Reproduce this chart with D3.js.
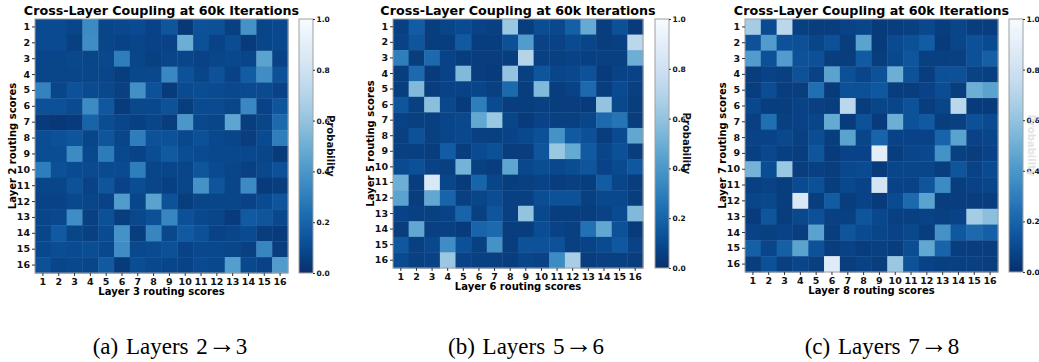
<!DOCTYPE html>
<html lang="en">
<head>
  <meta charset="UTF-8">
  <title>Cross-Layer Coupling heatmaps</title>
  <style>
    body { margin: 0; overflow: hidden; background: #fff; }
    svg { display: block; }
    .tick text { font-family: "DejaVu Sans", sans-serif; font-weight: bold; }
    .title { font-family: "DejaVu Sans", sans-serif; font-weight: bold; font-size: 12.7px; }
    .axlabel { font-family: "DejaVu Sans", sans-serif; font-weight: bold; font-size: 10px; }
    .caption { font-family: "Liberation Serif", "Times New Roman", serif; font-size: 23px; word-spacing: 2px; }
    .arrow { font-family: "Liberation Serif", serif; font-size: 28px; }
  </style>
  <script src="https://d3js.org/d3.v7.min.js"></script>
</head>
<body>
  <svg width="1039" height="362"></svg>
  <script>
    const experts = d3.range(1, 17);
    const cbTicks = [0, 0.2, 0.4, 0.6, 0.8, 1.0];

    // rows = source layer expert, columns = next layer expert
    const layers2to3 = [
      [0.10,0.10,0.08,0.35,0.08,0.09,0.10,0.07,0.14,0.03,0.13,0.12,0.06,0.38,0.08,0.09],
      [0.10,0.10,0.06,0.36,0.08,0.07,0.08,0.07,0.07,0.50,0.12,0.07,0.11,0.04,0.08,0.09],
      [0.08,0.08,0.09,0.08,0.09,0.30,0.08,0.06,0.08,0.08,0.07,0.08,0.09,0.08,0.45,0.07],
      [0.08,0.08,0.08,0.08,0.08,0.05,0.09,0.09,0.34,0.13,0.08,0.13,0.07,0.17,0.36,0.13],
      [0.32,0.08,0.13,0.10,0.09,0.06,0.37,0.13,0.04,0.10,0.11,0.10,0.09,0.10,0.10,0.07],
      [0.12,0.12,0.10,0.35,0.15,0.04,0.09,0.09,0.13,0.05,0.10,0.10,0.08,0.34,0.07,0.14],
      [0.04,0.03,0.04,0.20,0.11,0.08,0.06,0.08,0.05,0.40,0.09,0.08,0.46,0.05,0.08,0.22],
      [0.11,0.12,0.14,0.08,0.14,0.08,0.30,0.13,0.13,0.09,0.12,0.09,0.08,0.05,0.10,0.30],
      [0.11,0.11,0.35,0.09,0.29,0.09,0.07,0.11,0.16,0.11,0.10,0.09,0.09,0.09,0.08,0.04],
      [0.30,0.12,0.10,0.10,0.10,0.10,0.30,0.08,0.08,0.08,0.14,0.10,0.08,0.06,0.09,0.12],
      [0.08,0.08,0.13,0.07,0.14,0.07,0.11,0.08,0.06,0.08,0.38,0.14,0.08,0.35,0.04,0.05],
      [0.07,0.07,0.09,0.08,0.07,0.42,0.08,0.45,0.13,0.05,0.08,0.08,0.08,0.07,0.10,0.14],
      [0.08,0.09,0.36,0.06,0.12,0.05,0.09,0.12,0.33,0.12,0.09,0.08,0.04,0.16,0.14,0.09],
      [0.08,0.16,0.08,0.06,0.10,0.38,0.05,0.33,0.09,0.16,0.12,0.07,0.08,0.10,0.05,0.04],
      [0.09,0.11,0.10,0.11,0.09,0.36,0.09,0.10,0.12,0.07,0.09,0.09,0.08,0.06,0.33,0.05],
      [0.12,0.08,0.09,0.08,0.16,0.04,0.11,0.09,0.08,0.07,0.10,0.09,0.43,0.09,0.07,0.42]
    ];

    const layers5to6 = [
      [0.06,0.17,0.05,0.08,0.10,0.07,0.06,0.62,0.05,0.11,0.09,0.18,0.48,0.05,0.12,0.04],
      [0.07,0.14,0.05,0.05,0.16,0.05,0.05,0.12,0.42,0.07,0.07,0.10,0.08,0.05,0.06,0.72],
      [0.30,0.05,0.22,0.07,0.05,0.05,0.05,0.05,0.70,0.06,0.06,0.07,0.06,0.06,0.06,0.50],
      [0.05,0.22,0.04,0.07,0.55,0.05,0.04,0.60,0.06,0.14,0.08,0.09,0.13,0.04,0.07,0.07],
      [0.05,0.55,0.05,0.07,0.07,0.08,0.06,0.22,0.05,0.55,0.05,0.07,0.22,0.05,0.10,0.06],
      [0.14,0.06,0.58,0.09,0.04,0.30,0.10,0.05,0.05,0.06,0.05,0.05,0.04,0.60,0.09,0.05],
      [0.07,0.06,0.06,0.08,0.09,0.47,0.62,0.08,0.04,0.07,0.06,0.06,0.08,0.22,0.26,0.05],
      [0.06,0.13,0.06,0.08,0.09,0.06,0.06,0.07,0.09,0.12,0.38,0.16,0.12,0.05,0.10,0.47],
      [0.06,0.06,0.05,0.17,0.05,0.10,0.12,0.05,0.05,0.14,0.62,0.48,0.16,0.08,0.12,0.05],
      [0.10,0.12,0.07,0.06,0.52,0.06,0.05,0.46,0.09,0.11,0.09,0.11,0.14,0.07,0.10,0.15],
      [0.50,0.05,0.85,0.08,0.04,0.20,0.08,0.05,0.06,0.07,0.05,0.06,0.05,0.17,0.08,0.05],
      [0.45,0.05,0.47,0.20,0.06,0.08,0.11,0.06,0.06,0.11,0.13,0.13,0.06,0.09,0.09,0.05],
      [0.07,0.06,0.06,0.07,0.20,0.06,0.14,0.06,0.60,0.09,0.05,0.05,0.05,0.07,0.10,0.55],
      [0.05,0.47,0.06,0.06,0.04,0.20,0.22,0.05,0.05,0.11,0.07,0.06,0.25,0.47,0.13,0.04],
      [0.15,0.06,0.09,0.36,0.12,0.06,0.38,0.05,0.13,0.13,0.13,0.06,0.07,0.10,0.15,0.07],
      [0.10,0.06,0.07,0.62,0.07,0.06,0.06,0.05,0.08,0.07,0.35,0.66,0.05,0.06,0.06,0.05]
    ];

    const layers7to8 = [
      [0.65,0.10,0.72,0.06,0.05,0.05,0.07,0.08,0.04,0.05,0.06,0.09,0.05,0.08,0.05,0.05],
      [0.13,0.42,0.13,0.12,0.08,0.12,0.05,0.45,0.04,0.10,0.12,0.17,0.04,0.08,0.12,0.10],
      [0.42,0.12,0.42,0.13,0.12,0.05,0.05,0.16,0.05,0.09,0.14,0.06,0.06,0.06,0.12,0.18],
      [0.05,0.07,0.06,0.13,0.07,0.45,0.12,0.08,0.13,0.50,0.13,0.05,0.12,0.12,0.07,0.06],
      [0.05,0.11,0.05,0.05,0.24,0.04,0.12,0.12,0.15,0.05,0.05,0.07,0.11,0.05,0.50,0.45],
      [0.09,0.05,0.05,0.07,0.06,0.05,0.72,0.05,0.08,0.08,0.13,0.05,0.08,0.72,0.04,0.04],
      [0.06,0.24,0.06,0.07,0.08,0.48,0.04,0.13,0.04,0.50,0.13,0.16,0.05,0.06,0.12,0.10],
      [0.07,0.07,0.09,0.06,0.11,0.05,0.45,0.08,0.20,0.07,0.07,0.07,0.20,0.45,0.07,0.08],
      [0.06,0.09,0.06,0.05,0.14,0.04,0.07,0.07,0.90,0.05,0.08,0.09,0.38,0.06,0.05,0.07],
      [0.52,0.11,0.62,0.05,0.06,0.05,0.09,0.10,0.04,0.08,0.08,0.08,0.05,0.14,0.07,0.10],
      [0.06,0.07,0.05,0.10,0.12,0.05,0.09,0.07,0.82,0.07,0.07,0.14,0.35,0.05,0.07,0.08],
      [0.08,0.09,0.05,0.85,0.05,0.17,0.05,0.07,0.04,0.10,0.22,0.45,0.05,0.05,0.05,0.05],
      [0.04,0.14,0.05,0.09,0.12,0.06,0.06,0.14,0.09,0.06,0.06,0.07,0.06,0.07,0.65,0.58],
      [0.07,0.06,0.07,0.05,0.45,0.05,0.14,0.10,0.08,0.07,0.09,0.05,0.38,0.15,0.22,0.18],
      [0.18,0.08,0.18,0.45,0.13,0.05,0.07,0.05,0.06,0.05,0.11,0.47,0.20,0.05,0.05,0.05],
      [0.05,0.12,0.06,0.08,0.06,0.88,0.05,0.07,0.05,0.62,0.13,0.07,0.06,0.06,0.06,0.05]
    ];

    const panels = [
      {data: layers2to3, src: 2, dst: 3, tag: "(a)", x: 35, y: 19, w: 253, h: 254, cbx: 299},
      {data: layers5to6, src: 5, dst: 6, tag: "(b)", x: 393, y: 19, w: 250, h: 249, cbx: 655},
      {data: layers7to8, src: 7, dst: 8, tag: "(c)", x: 745, y: 19, w: 253, h: 253, cbx: 1009}
    ];
    const captionX = [170, 526, 882];

    const color = d3.scaleSequential(t => d3.interpolateBlues(1 - t)).domain([0, 1]);
    const svg = d3.select("svg");

    const defs = svg.append("defs");
    const grad = defs.append("linearGradient")
      .attr("id", "cbgrad")
      .attr("x1", 0).attr("y1", 1).attr("x2", 0).attr("y2", 0);
    d3.range(0, 1.0001, 0.05).forEach(t => {
      grad.append("stop").attr("offset", t).attr("stop-color", color(t));
    });

    panels.forEach((p, i) => {
      const g = svg.append("g").attr("transform", `translate(${p.x},${p.y})`);
      const x = d3.scaleBand().domain(experts).range([0, p.w]);
      const y = d3.scaleBand().domain(experts).range([0, p.h]);

      const cells = [];
      p.data.forEach((row, r) => row.forEach((v, c) => cells.push({r: r + 1, c: c + 1, v})));

      g.selectAll("rect.cell")
        .data(cells)
        .join("rect")
        .attr("class", "cell")
        .attr("x", d => x(d.c))
        .attr("y", d => y(d.r))
        .attr("width", x.bandwidth() + 0.4)
        .attr("height", y.bandwidth() + 0.4)
        .attr("fill", d => color(d.v));

      g.append("rect")
        .attr("width", p.w).attr("height", p.h)
        .attr("fill", "none").attr("stroke", "#a0a0a0").attr("stroke-width", 1);

      const xAxis = g.append("g")
        .attr("transform", `translate(0,${p.h})`)
        .call(d3.axisBottom(x).tickSize(3).tickPadding(2));
      const yAxis = g.append("g")
        .call(d3.axisLeft(y).tickSize(3).tickPadding(2));
      [xAxis, yAxis].forEach(a => {
        a.select(".domain").remove();
        a.selectAll(".tick text").attr("font-size", 9.5).attr("fill", "#111");
        a.selectAll(".tick line").attr("stroke", "#333");
      });

      g.append("text")
        .attr("class", "title")
        .attr("x", p.w / 2).attr("y", -4)
        .attr("text-anchor", "middle")
        .text("Cross-Layer Coupling at 60k Iterations");

      g.append("text")
        .attr("class", "axlabel")
        .attr("x", p.w / 2).attr("y", p.h + 22)
        .attr("text-anchor", "middle")
        .text(`Layer ${p.dst} routing scores`);

      g.append("text")
        .attr("class", "axlabel")
        .attr("transform", `translate(-19,${p.h / 2}) rotate(-90)`)
        .attr("text-anchor", "middle")
        .text(`Layer ${p.src} routing scores`);

      // colorbar
      const cb = svg.append("g").attr("transform", `translate(${p.cbx},${p.y})`);
      const cbScale = d3.scaleLinear().domain([0, 1]).range([p.h, 0]);
      cb.append("rect")
        .attr("width", 14).attr("height", p.h)
        .attr("fill", "url(#cbgrad)")
        .attr("stroke", "#a0a0a0").attr("stroke-width", 1);
      const cbAxis = cb.append("g")
        .attr("transform", "translate(14,0)")
        .call(d3.axisRight(cbScale).tickValues(cbTicks).tickFormat(d3.format(".1f")).tickSize(2).tickPadding(1.5));
      cbAxis.select(".domain").remove();
      cbAxis.selectAll(".tick text").attr("font-size", 7.5).attr("fill", "#111");
      cbAxis.selectAll(".tick line").attr("stroke", "#333");

      // last panel's label sits at the page edge, barely visible in the reference
      cb.append("text")
        .attr("class", "axlabel")
        .attr("transform", `translate(${i === 2 ? 19 : 28},${p.h / 2}) rotate(90)`)
        .attr("text-anchor", "middle")
        .attr("fill", i === 2 ? "#e4e4e4" : "#111")
        .attr("font-size", i === 2 ? 8 : null)
        .text("Probability");

      const cap = svg.append("text")
        .attr("class", "caption")
        .attr("x", captionX[i]).attr("y", 354)
        .attr("text-anchor", "middle");
      cap.append("tspan").text(`${p.tag} Layers ${p.src}`);
      cap.append("tspan").attr("class", "arrow").attr("dy", -1).text("\u2192");
      cap.append("tspan").attr("dy", 1).text(`${p.dst}`);
    });
  </script>
</body>
</html>
